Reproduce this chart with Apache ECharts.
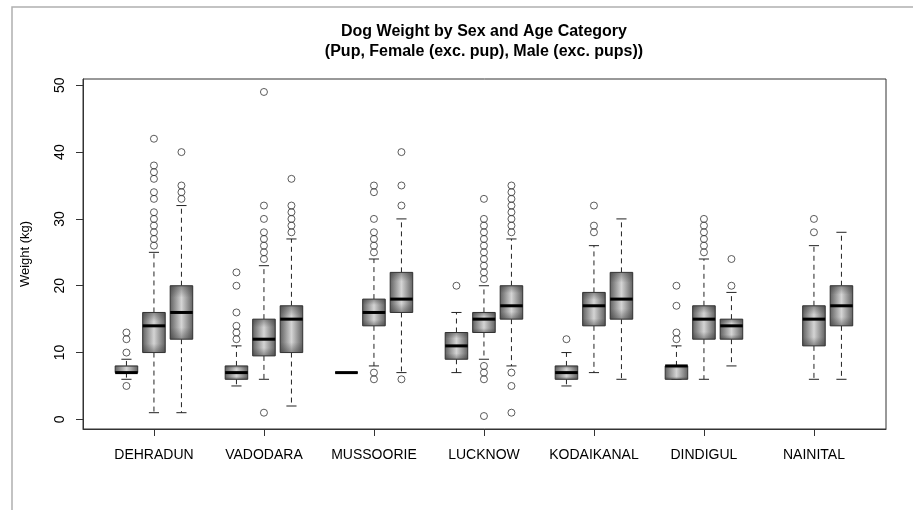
<!DOCTYPE html>
<html>
<head>
<meta charset="utf-8">
<script src="https://cdn.jsdelivr.net/npm/echarts@6/dist/echarts.min.js"></script>
<style>
  html, body { margin: 0; padding: 0; background: #fff; }
  #chart { width: 913px; height: 510px; }
</style>
</head>
<body>
<div id="chart"></div>
<script>
// cities along the x axis
const cities = ['DEHRADUN', 'VADODARA', 'MUSSOORIE', 'LUCKNOW', 'KODAIKANAL', 'DINDIGUL', 'NAINITAL']
const yTicks = [0, 10, 20, 30, 40, 50]

// [lower whisker, Q1, median, Q3, upper whisker]
const pupStats = [
    [6, 7, 7, 8, 9],
    [5, 6, 7, 8, 11],
    [7, 7, 7, 7, 7],
    [7, 9, 11, 13, 16],
    [5, 6, 7, 8, 10],
    [6, 6, 8, 8, 11],
    null
]
const femaleStats = [
    [1, 10, 14, 16, 25],
    [6, 9.5, 12, 15, 23],
    [8, 14, 16, 18, 24],
    [9, 13, 15, 16, 20],
    [7, 14, 17, 19, 26],
    [6, 12, 15, 17, 24],
    [6, 11, 15, 17, 26]
]
const maleStats = [
    [1, 12, 16, 20, 32],
    [2, 10, 15, 17, 27],
    [7, 16, 18, 22, 30],
    [8, 15, 17, 20, 27],
    [6, 15, 18, 22, 30],
    [8, 12, 14, 15, 19],
    [6, 14, 17, 20, 28]
]

// outliers
const pupOutliers = [
    [5, 10, 12, 13],
    [12, 13, 14, 16, 20, 22],
    [],
    [20],
    [12],
    [12, 13, 17, 20],
    []
]
const femaleOutliers = [
    [26, 27, 28, 29, 30, 31, 33, 34, 36, 37, 38, 42],
    [1, 24, 25, 26, 27, 28, 30, 32, 49],
    [6, 7, 25, 26, 27, 28, 30, 34, 35],
    [0.5, 6, 7, 8, 21, 22, 23, 24, 25, 26, 27, 28, 29, 30, 33],
    [28, 29, 32],
    [25, 26, 27, 28, 29, 30],
    [28, 30]
]
const maleOutliers = [
    [33, 34, 35, 40],
    [28, 29, 30, 31, 32, 36],
    [6, 32, 35, 40],
    [1, 5, 7, 28, 29, 30, 31, 32, 33, 34, 35],
    [],
    [20, 24],
    []
]

const FONT = '"Liberation Sans", Arial, sans-serif'

// box position: 3 boxes per city + one empty slot
const slotX = (i, s) => 4 * i + s + 1

let boxData = []
let outlierData = []
const allStats = [pupStats, femaleStats, maleStats]
const allOutliers = [pupOutliers, femaleOutliers, maleOutliers]
cities.forEach((c, i) => {
    allStats.forEach((stats, s) => {
        if (stats[i]) boxData.push([slotX(i, s)].concat(stats[i]))
        allOutliers[s][i].forEach(v => outlierData.push([slotX(i, s), v]))
    })
})
const labelPos = cities.map((c, i) => slotX(i, 1))

const hGrad = {type: 'linear', x: 0, y: 0, x2: 1, y2: 0, colorStops: [
    {offset: 0, color: '#5e5e5e'},
    {offset: 0.5, color: '#d4d4d4'},
    {offset: 1, color: '#5e5e5e'}
]}
const vGrad = {type: 'linear', x: 0, y: 0, x2: 0, y2: 1, colorStops: [
    {offset: 0, color: 'rgba(50,50,50,0.45)'},
    {offset: 0.22, color: 'rgba(50,50,50,0)'},
    {offset: 0.78, color: 'rgba(50,50,50,0)'},
    {offset: 1, color: 'rgba(50,50,50,0.45)'}
]}

function renderBox(params, api) {
    const x = api.value(0)
    const lo = api.coord([x, api.value(1)])
    const q1 = api.coord([x, api.value(2)])
    const md = api.coord([x, api.value(3)])
    const q3 = api.coord([x, api.value(4)])
    const hi = api.coord([x, api.value(5)])
    const half = api.size([0.82, 0])[0] / 2
    const cap = half * 0.45
    const cx = lo[0]
    const line = (x1, y1, x2, y2, style) => ({type: 'line', shape: {x1, y1, x2, y2}, style})
    const dashed = {stroke: '#222', lineWidth: 1, lineDash: [5, 4]}
    const solid = {stroke: '#222', lineWidth: 1}
    const rect = {x: cx - half, y: q3[1], width: half * 2, height: q1[1] - q3[1]}
    return {
        type: 'group',
        children: [
            line(cx, q3[1], cx, hi[1], dashed),
            line(cx, q1[1], cx, lo[1], dashed),
            line(cx - cap, hi[1], cx + cap, hi[1], solid),
            line(cx - cap, lo[1], cx + cap, lo[1], solid),
            {type: 'rect', shape: rect, style: {fill: hGrad, stroke: '#333', lineWidth: 1}},
            {type: 'rect', shape: rect, style: {fill: vGrad}},
            line(cx - half, md[1], cx + half, md[1], {stroke: '#000', lineWidth: 3})
        ]
    }
}

const mChart = echarts.init(document.getElementById('chart'))
const option = {
    backgroundColor: '#fff',
    animation: false,
    title: {
        text: 'Dog Weight by Sex and Age Category\n(Pup, Female (exc. pup), Male (exc. pups))',
        left: 484,
        top: 22,
        textAlign: 'center',
        padding: 0,
        textStyle: {
            fontFamily: FONT,
            fontSize: 16,
            fontWeight: 'bold',
            color: '#000',
            lineHeight: 20
        }
    },
    // screenshot frame
    graphic: [{
        type: 'rect',
        z: -10,
        shape: {x: 12, y: 7, width: 1000, height: 600},
        style: {fill: 'none', stroke: '#b0b0b0', lineWidth: 1.5}
    }],
    grid: {
        left: 83,
        top: 79,
        width: 803,
        height: 350,
        show: true,
        borderColor: '#333',
        borderWidth: 1,
        containLabel: false
    },
    xAxis: {
        type: 'value',
        min: -0.58,
        max: 28.62,
        axisLine: {show: true, onZero: false, lineStyle: {color: '#333'}},
        axisTick: {show: true, customValues: labelPos, length: 7, lineStyle: {color: '#333'}},
        axisLabel: {
            customValues: labelPos,
            formatter: v => cities[(v - 2) / 4],
            color: '#000',
            fontFamily: FONT,
            fontSize: 14,
            margin: 19
        },
        splitLine: {show: false}
    },
    yAxis: {
        type: 'value',
        min: -1.44,
        max: 50.94,
        name: 'Weight (kg)',
        nameLocation: 'middle',
        nameGap: 51,
        nameTextStyle: {fontFamily: FONT, fontSize: 13, color: '#000'},
        axisLine: {show: true, onZero: false, lineStyle: {color: '#333'}},
        axisTick: {show: true, customValues: yTicks, length: 7, lineStyle: {color: '#333'}},
        axisLabel: {
            customValues: yTicks,
            rotate: 90,
            color: '#000',
            fontFamily: FONT,
            fontSize: 14,
            margin: 16
        },
        splitLine: {show: false}
    },
    series: [
        {
            name: 'boxes',
            type: 'custom',
            renderItem: renderBox,
            encode: {x: 0, y: [1, 2, 3, 4, 5]},
            data: boxData,
            z: 2
        },
        {
            name: 'outliers',
            type: 'scatter',
            symbol: 'circle',
            symbolSize: 7,
            itemStyle: {color: 'rgba(0,0,0,0)', borderColor: '#333', borderWidth: 1},
            data: outlierData,
            z: 3
        }
    ]
}
mChart.setOption(option)
window.addEventListener('resize', function() {
    mChart.resize()
})
</script>
</body>
</html>
